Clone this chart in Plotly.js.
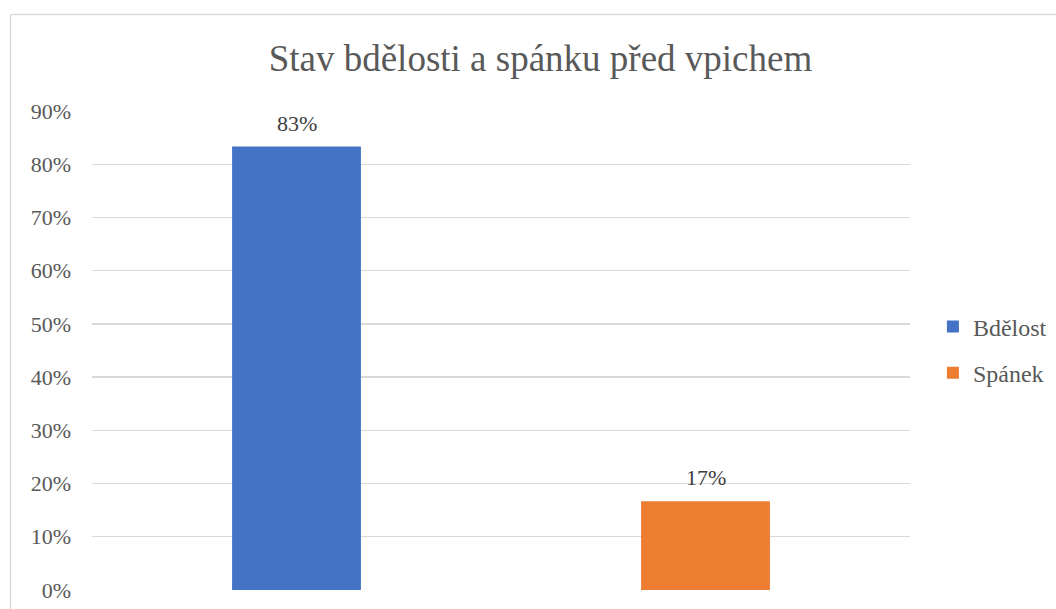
<!DOCTYPE html>
<html><head><meta charset="utf-8">
<script src="https://cdn.plot.ly/plotly-3.0.1.min.js"></script>
<style>
body{margin:0;padding:0;background:#fff;font-family:'Liberation Serif','Times New Roman',serif;}
#chart text, .js-plotly-plot text{font-family:'Liberation Serif','Times New Roman',serif !important;}
</style>
</head>
<body>
<div id="chart"></div>
<script>
const categories = ['Bdělost', 'Spánek'];
const values = [0.8333, 0.1667];
const colors = ['#4472C4', '#ED7D31'];
const tickVals = [0,0.1,0.2,0.3,0.4,0.5,0.6,0.7,0.8,0.9];
const tickText = ['0%','10%','20%','30%','40%','50%','60%','70%','80%','90%'];
const titleText = 'Stav bdělosti a spánku před vpichem';

const FONT = 'Liberation Serif';
const traces = categories.map((c,i)=>({
  type:'bar', name:c, x:[c], y:[values[i]], width:0.315,
  marker:{color:colors[i]}, legendgroup:c,
  hoverinfo:'skip'
}));
const annotations = categories.map((c,i)=>({
  x:c, y:values[i], xref:'x', yref:'y', text:Math.round(values[i]*100)+'%',
  showarrow:false, yanchor:'bottom', yshift:9,
  font:{family:FONT,size:22,color:'#404040'}
}));
const layout = {
  width:1056, height:609,
  margin:{l:92,r:146,t:111,b:19,autoexpand:false},
  paper_bgcolor:'#fff', plot_bgcolor:'#fff',
  barmode:'overlay',
  font:{family:FONT,color:'#595959'},
  title:{text:titleText, font:{family:FONT,size:37,color:'#595959'}, x:0.5118, xref:'container', xanchor:'center', y:0.905, yref:'container', yanchor:'middle'},
  xaxis:{showticklabels:false, showgrid:false, zeroline:false, showline:false, ticks:''},
  yaxis:{range:[0,0.9], tickvals:tickVals, ticktext:tickText, showgrid:true, gridcolor:'#d9d9d9', gridwidth:1.3, zeroline:false, showline:false, ticks:'', ticklabelstandoff:20, tickfont:{family:FONT,size:22,color:'#595959'}},
  legend:{x:1.028, xanchor:'left', y:0.501, yanchor:'middle', font:{family:FONT,size:24,color:'#595959'}, traceorder:'grouped', tracegroupgap:12, itemwidth:30},
  annotations:annotations,
  shapes:[
    {type:'line', xref:'paper', yref:'paper', x0:-0.0996, x1:-0.0996, y0:-0.05, y1:1.2015, line:{color:'#d9d9d9', width:1.3}, layer:'above'},
    {type:'line', xref:'paper', yref:'paper', x0:-0.0996, x1:1.2, y0:1.2015, y1:1.2015, line:{color:'#d9d9d9', width:1.3}, layer:'above'}
  ],
  showlegend:true
};
Plotly.newPlot('chart', traces, layout, {staticPlot:true});
</script></body></html>
